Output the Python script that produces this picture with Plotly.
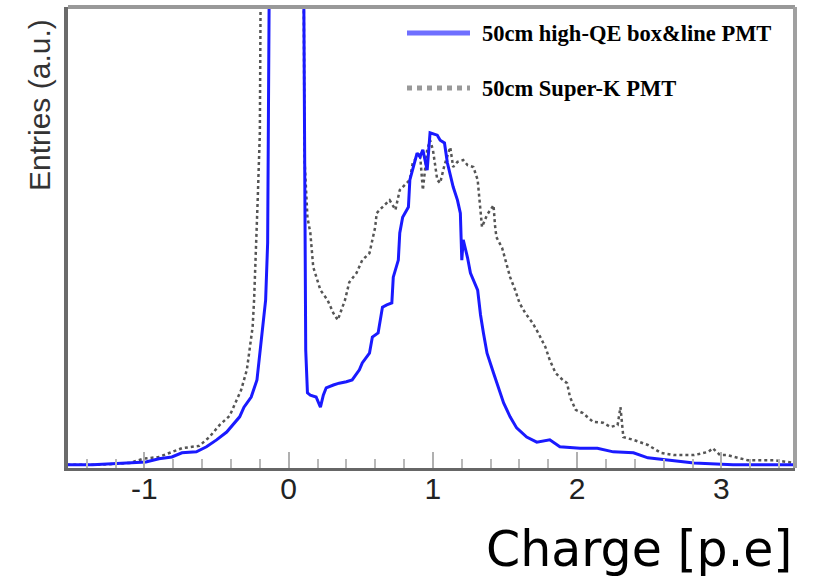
import plotly.graph_objects as go

# Super-K PMT (grey dotted) — charge [p.e] and entries (a.u., frame top = 100)
sk_x = [-1.535, -1.31, -1.10, -1.01, -0.90, -0.74, -0.62, -0.55, -0.48, -0.41,
        -0.36, -0.33, -0.29, -0.27, -0.25, -0.24, -0.22, -0.215, -0.20, -0.19,
        0.10, 0.11, 0.13, 0.15, 0.17, 0.22, 0.27, 0.31, 0.34, 0.39,
        0.42, 0.47, 0.51, 0.56, 0.60, 0.61, 0.65, 0.70, 0.74, 0.77,
        0.84, 0.86, 0.91, 0.93, 0.96, 0.98, 1.00, 1.03, 1.05, 1.08,
        1.12, 1.14, 1.17, 1.21, 1.24, 1.28, 1.31, 1.33, 1.34, 1.375,
        1.42, 1.43, 1.44, 1.48, 1.51, 1.535, 1.57, 1.60, 1.64, 1.69,
        1.73, 1.78, 1.81, 1.85, 1.90, 1.93, 1.95, 1.99, 2.04, 2.11,
        2.18, 2.23, 2.28, 2.30, 2.32, 2.39, 2.49, 2.58, 2.67, 2.81,
        2.91, 2.94, 2.99, 3.04, 3.18, 3.36, 3.51]
sk_y = [0.7, 0.7, 1.1, 2.0, 2.4, 4.3, 4.8, 6.7, 9.3, 11.3,
        14.8, 16.9, 21.3, 25.6, 30.6, 36.4, 51.0, 58.1, 72.7, 130,
        130, 66.8, 54.4, 51.0, 43.6, 38.6, 36.4, 33.6, 32.1, 36.4,
        40.3, 42.3, 45.1, 46.6, 52.3, 55.3, 56.6, 58.1, 56.0, 60.3,
        62.5, 66.2, 68.3, 60.3, 69.0, 71.1, 69.0, 62.5, 61.8, 65.7,
        69.6, 65.3, 66.4, 66.8, 65.7, 65.3, 62.5, 56.0, 52.3, 54.9,
        57.0, 52.7, 50.1, 47.7, 44.5, 41.4, 38.6, 35.8, 33.6, 31.5,
        29.3, 26.2, 23.4, 20.6, 19.1, 18.4, 15.4, 12.6, 11.9, 10.0,
        9.8, 8.9, 9.3, 13.2, 6.7, 6.1, 5.0, 3.3, 2.8, 2.8,
        3.5, 4.3, 2.8, 2.8, 1.7, 1.7, 1.1]

# High-QE box&line PMT (blue)
hq_x = [-1.535, -1.36, -1.125, -0.99, -0.90, -0.81, -0.74, -0.64, -0.57, -0.50,
        -0.43, -0.39, -0.34, -0.31, -0.26, -0.22, -0.20, -0.18, -0.16, -0.146,
        -0.139, -0.13, 0.10, 0.11, 0.118, 0.13, 0.15, 0.19, 0.22, 0.24,
        0.26, 0.31, 0.35, 0.40, 0.44, 0.49, 0.51, 0.56, 0.58, 0.62,
        0.65, 0.68, 0.715, 0.725, 0.76, 0.77, 0.79, 0.83, 0.84, 0.89,
        0.91, 0.93, 0.96, 0.98, 1.03, 1.05, 1.08, 1.10, 1.14, 1.17,
        1.19, 1.20, 1.21, 1.24, 1.26, 1.31, 1.33, 1.35, 1.375, 1.42,
        1.45, 1.49, 1.535, 1.58, 1.65, 1.72, 1.81, 1.88, 2.02, 2.14,
        2.25, 2.39, 2.49, 2.625, 2.81, 3.08, 3.51]
hq_y = [0.7, 0.7, 1.1, 1.3, 2.0, 2.4, 3.3, 3.5, 4.6, 6.1,
        7.8, 9.3, 11.1, 13.2, 15.4, 19.1, 24.9, 32.1, 36.4, 48.8,
        82.6, 130, 130, 62.5, 25.6, 16.3, 15.8, 15.4, 13.2, 15.8,
        17.4, 18.0, 18.4, 18.7, 19.1, 21.3, 22.8, 24.9, 28.4, 29.3,
        34.9, 35.4, 35.8, 41.4, 45.1, 51.0, 54.4, 56.6, 62.5, 68.3,
        67.5, 69.0, 64.6, 72.7, 72.2, 71.1, 70.5, 66.2, 61.0, 58.1,
        55.3, 45.1, 49.5, 45.6, 42.3, 38.6, 33.2, 29.3, 24.9, 20.6,
        17.6, 14.1, 11.1, 8.7, 6.7, 5.6, 6.1, 4.6, 4.3, 4.3,
        3.5, 3.3, 2.2, 1.7, 1.1, 0.7, 0.7]

tick_vals = [-1, 0, 1, 2, 3]
tick_text = ["-1", "0", "1", "2", "3"]
legend_labels = ["50cm high-QE box&line PMT", "50cm Super-K PMT"]

fig = go.Figure()
fig.add_trace(go.Scatter(x=sk_x, y=sk_y, mode="lines",
                         line=dict(color="#555555", width=2.5, dash="dot"),
                         showlegend=False))
fig.add_trace(go.Scatter(x=hq_x, y=hq_y, mode="lines",
                         line=dict(color="#1a1aff", width=3),
                         showlegend=False))

fig.update_layout(
    width=814, height=583, autosize=False,
    margin=dict(l=68, r=19, t=7, b=115),
    paper_bgcolor="white", plot_bgcolor="white",
    xaxis=dict(range=[-1.53, 3.51], tickvals=tick_vals, ticktext=tick_text,
               ticks="inside", ticklen=16, tickwidth=2, tickcolor="#b0b0b0",
               minor=dict(dtick=0.2, tick0=0, ticks="inside", ticklen=9,
                          tickwidth=2, tickcolor="#b8b8b8"),
               showgrid=False, zeroline=False,
               showline=True, linecolor="#666666", linewidth=3,
               ticklabelstandoff=-8,
               tickfont=dict(family="Liberation Sans, Arial", size=30, color="#222222")),
    yaxis=dict(range=[0, 100], showticklabels=False, ticks="",
               showgrid=False, zeroline=False,
               showline=True, linecolor="#6b6b6b", linewidth=4),
)

# top and right frame (lighter grey)
fig.add_shape(type="line", xref="paper", yref="paper", x0=0, x1=1, y0=1, y1=1,
              line=dict(color="#999999", width=4))
fig.add_shape(type="line", xref="paper", yref="paper", x0=1, x1=1, y0=0, y1=1,
              line=dict(color="#a0a0a0", width=4))

# legend
fig.add_shape(type="line", xref="paper", yref="paper",
              x0=(407 - 68) / 727, x1=(470 - 68) / 727,
              y0=(468 - 33) / 461, y1=(468 - 33) / 461,
              line=dict(color="#6f6fff", width=5))
fig.add_shape(type="line", xref="paper", yref="paper",
              x0=(407 - 68) / 727, x1=(470 - 68) / 727,
              y0=(468 - 88) / 461, y1=(468 - 88) / 461,
              line=dict(color="#999999", width=5, dash="dot"))
for lbl, py in zip(legend_labels, [33, 88]):
    fig.add_annotation(text=lbl, xref="paper", yref="paper",
                       x=(480 - 68) / 727, y=(468 - py) / 461,
                       xanchor="left", yanchor="middle", showarrow=False,
                       font=dict(family="Liberation Serif", size=22.5, color="black",
                                 weight="bold"))

# y title
fig.add_annotation(text="Entries (a.u.)", xref="paper", yref="paper",
                   x=(40 - 68) / 727, y=(468 - 17) / 461, textangle=-90,
                   xanchor="center", yanchor="top", showarrow=False,
                   font=dict(family="Liberation Sans, Arial", size=30, color="#333333"))

# x title
fig.add_annotation(text="Charge [p.e]", xref="paper", yref="paper",
                   x=(794 - 68) / 727, y=(468 - 549) / 461,
                   xanchor="right", yanchor="middle", showarrow=False,
                   font=dict(family="DejaVu Sans", size=49, color="black"))

fig.write_html("out.html")
